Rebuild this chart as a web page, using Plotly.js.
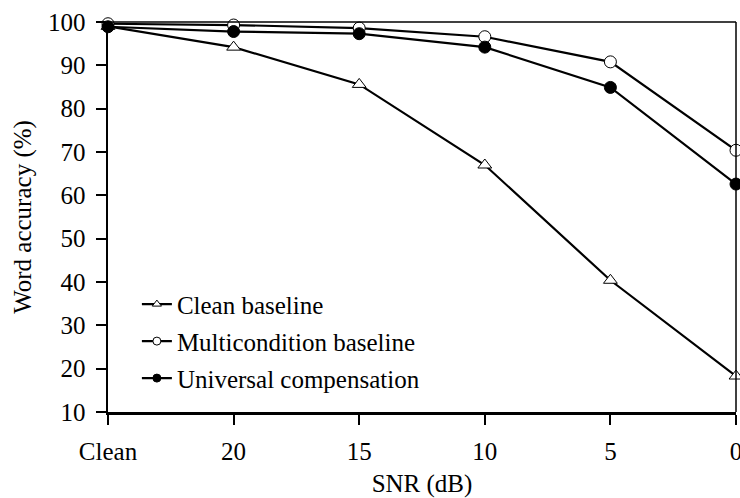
<!DOCTYPE html>
<html>
<head>
<meta charset="utf-8">
<script src="https://cdn.plot.ly/plotly-3.0.1.min.js"></script>
<style>html,body{margin:0;padding:0;background:#fff;}#chart{width:740px;height:498px;}</style>
</head>
<body>
<div id="chart"></div>
<script>
const categories = ["Clean", "20", "15", "10", "5", "0"];
const cleanBaseline = [99.0, 94.2, 85.6, 67.0, 40.4, 18.3];
const multiconditionBaseline = [99.6, 99.3, 98.6, 96.6, 90.8, 70.4];
const universalCompensation = [98.9, 97.8, 97.3, 94.2, 84.9, 62.6];
const seriesNames = ["Clean baseline", "Multicondition baseline", "Universal compensation"];
const yTicks = [10, 20, 30, 40, 50, 60, 70, 80, 90, 100];

const FONT = "'Liberation Serif', 'Times New Roman', serif";
const FS = 25;
const lineStyle = {color: "#000", width: 2.2};

function mainTrace(y, symbol, fill) {
  return {
    x: categories, y: y, type: "scatter", mode: "lines+markers",
    line: lineStyle, cliponaxis: false, showlegend: false,
    marker: {symbol: symbol, size: 12, color: fill ? "#000" : "#fff",
             line: {color: "#000", width: 1}}
  };
}
function legendTrace(name, symbol, fill, group) {
  return {
    x: [null], y: [null], type: "scatter", mode: "lines+markers", name: name,
    legendgroup: group, line: lineStyle,
    marker: {symbol: symbol, size: 8, color: fill ? "#000" : "#fff",
             line: {color: "#000", width: 1}}
  };
}

const data = [
  mainTrace(cleanBaseline, "triangle-up", false),
  mainTrace(multiconditionBaseline, "circle", false),
  mainTrace(universalCompensation, "circle", true),
  legendTrace(seriesNames[0], "triangle-up", false, "a"),
  legendTrace(seriesNames[1], "circle", false, "b"),
  legendTrace(seriesNames[2], "circle", true, "c")
];

const layout = {
  width: 740, height: 498,
  margin: {l: 108, r: 4, t: 22, b: 86},
  paper_bgcolor: "#fff", plot_bgcolor: "#fff",
  font: {family: FONT, size: FS, color: "#000"},
  showlegend: true,
  legend: {x: 0.046, y: 0.335, xanchor: "left", yanchor: "top",
           bgcolor: "rgba(0,0,0,0)", traceorder: "grouped", tracegroupgap: 1.5,
           itemwidth: 30, font: {family: FONT, size: FS, color: "#000"}},
  xaxis: {
    type: "category", range: [0, 5], showgrid: false, zeroline: false,
    showline: true, linecolor: "#000", linewidth: 2.5,
    ticks: "outside", ticklen: 10, tickwidth: 2, tickcolor: "#000",
    ticklabelstandoff: 5,
    tickfont: {family: FONT, size: FS, color: "#000"},
    title: {text: "SNR (dB)", font: {family: FONT, size: FS, color: "#000"}, standoff: 11}
  },
  yaxis: {
    range: [10, 100], tickvals: yTicks, showgrid: false, zeroline: false,
    showline: true, linecolor: "#000", linewidth: 2.5,
    ticks: "outside", ticklen: 10, tickwidth: 2, tickcolor: "#000",
    ticklabelstandoff: 5,
    tickfont: {family: FONT, size: FS, color: "#000"},
    title: {text: "Word accuracy (%)", font: {family: FONT, size: FS, color: "#000"}, standoff: 10}
  },
  shapes: [
    {type: "line", xref: "paper", yref: "paper", x0: 0, x1: 1, y0: 1, y1: 1, line: {color: "#000", width: 1.5}},
    {type: "line", xref: "paper", yref: "paper", x0: 1, x1: 1, y0: 0, y1: 1, line: {color: "#000", width: 1.5}}
  ]
};

Plotly.newPlot("chart", data, layout, {displayModeBar: false, staticPlot: true});
</script>
</body>
</html>
